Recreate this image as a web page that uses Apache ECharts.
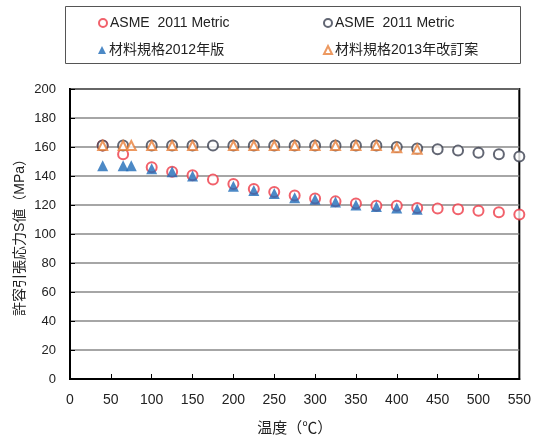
<!DOCTYPE html>
<html>
<head>
<meta charset="utf-8">
<script src="https://cdn.jsdelivr.net/npm/echarts@6/dist/echarts.min.js"></script>
<style>html,body{margin:0;padding:0;background:#fff}#c{width:534px;height:441px}</style>
</head>
<body>
<div id="c"></div>
<script>
// Data
const seriesNames = ['ASME  2011 Metric', 'ASME  2011 Metric ', '材料規格2012年版', '材料規格2013年改訂案'];
const asmeRedX = [40, 65, 100, 125, 150, 175, 200, 225, 250, 275, 300, 325, 350, 375, 400, 425, 450, 475, 500, 525, 550];
const asmeRedY = [161, 155, 146, 143, 140.5, 137.5, 134.5, 131, 129, 126.5, 124.5, 122.5, 121, 119.5, 119.5, 118, 117.5, 117, 116, 115, 113.5];
const asmeBlackX = [40, 65, 100, 125, 150, 175, 200, 225, 250, 275, 300, 325, 350, 375, 400, 425, 450, 475, 500, 525, 550];
const asmeBlackY = [161, 161, 161, 161, 161, 161, 161, 161, 161, 161, 161, 161, 161, 161, 160, 159, 158.5, 157.5, 156, 155, 153.5];
const jis2012X = [40, 65, 75, 100, 125, 150, 200, 225, 250, 275, 300, 325, 350, 375, 400, 425];
const jis2012Y = [147, 147, 147, 145, 143, 140, 133, 130, 128, 125, 124, 122, 120, 119, 118, 117];
const jis2013X = [40, 65, 75, 100, 125, 150, 200, 225, 250, 275, 300, 325, 350, 375, 400, 425];
const jis2013Y = [161, 161, 161, 161, 161, 161, 161, 161, 161, 161, 161, 161, 161, 161, 159.5, 158.5];
const yTicks = {min: 0, max: 200, interval: 20};
const xTicks = {min: 0, max: 550, interval: 50};
const xAxisTitle = '温度（℃）';
const yAxisTitle = '許容引張応力S値（MPa）';

const pair = (xs, ys) => xs.map((x, i) => [x, ys[i]]);
const FONT = '"Liberation Sans", Arial, "Noto Sans CJK JP", sans-serif';
const colors = ['#ee3a46', '#3b4050', '#1f6cb8', '#e8803a'];

const chart = echarts.init(document.getElementById('c'), null, {renderer: 'canvas'});

function legendAt(name, left, top, icon) {
  return {
    data: [{name: name, icon: icon}],
    left: left, top: top,
    itemWidth: 8, itemHeight: 8, itemGap: 0,
    padding: 0,
    selectedMode: false,
    textStyle: {fontFamily: FONT, fontSize: 14, color: '#222', padding: [0, 0, 0, -2]}
  };
}

chart.setOption({
  animation: false,
  backgroundColor: '#fff',
  graphic: [{
    type: 'rect',
    shape: {x: 65.5, y: 6.5, width: 455, height: 57},
    style: {fill: 'none', stroke: '#555', lineWidth: 1}
  }],
  legend: [
    legendAt(seriesNames[0], 98, 16, 'emptyCircle'),
    legendAt(seriesNames[1], 323, 16, 'emptyCircle'),
    legendAt(seriesNames[2], 98, 43, 'triangle'),
    legendAt(seriesNames[3], 323, 43, 'emptyTriangle')
  ],
  grid: {left: 70, right: 13, top: 89, bottom: 59, show: true, borderColor: '#000', borderWidth: 2, backgroundColor: 'transparent'},
  xAxis: {
    type: 'value', min: xTicks.min, max: xTicks.max, interval: xTicks.interval,
    name: xAxisTitle, nameLocation: 'middle', nameGap: 42, nameMoveOverlap: false,
    nameTextStyle: {fontFamily: FONT, fontSize: 15, color: '#222'},
    axisLine: {lineStyle: {color: '#000', width: 2}},
    axisTick: {inside: true, length: 5, lineStyle: {color: '#000', width: 1}},
    axisLabel: {fontFamily: FONT, fontSize: 14, color: '#222', margin: 14},
    splitLine: {show: false}
  },
  yAxis: {
    type: 'value', min: yTicks.min, max: yTicks.max, interval: yTicks.interval,
    name: yAxisTitle, nameLocation: 'middle', nameGap: 43, nameRotate: 90, nameMoveOverlap: false,
    nameTextStyle: {fontFamily: FONT, fontSize: 14, color: '#222'},
    axisLine: {lineStyle: {color: '#000', width: 2}},
    axisTick: {inside: true, length: 5, lineStyle: {color: '#000', width: 1}},
    axisLabel: {fontFamily: FONT, fontSize: 13, color: '#222', margin: 14},
    splitLine: {show: true, lineStyle: {color: '#888', width: 1.5}}
  },
  series: [
    {name: seriesNames[0], type: 'scatter', symbol: 'emptyCircle', symbolSize: 10,
      itemStyle: {color: colors[0], borderColor: colors[0], borderWidth: 1.8},
      data: pair(asmeRedX, asmeRedY), z: 2},
    {name: seriesNames[1], type: 'scatter', symbol: 'emptyCircle', symbolSize: 10,
      itemStyle: {color: colors[1], borderColor: colors[1], borderWidth: 1.8},
      data: pair(asmeBlackX, asmeBlackY), z: 2},
    {name: seriesNames[2], type: 'scatter', symbol: 'triangle', symbolSize: 11,
      itemStyle: {color: colors[2]},
      data: pair(jis2012X, jis2012Y), z: 3},
    {name: seriesNames[3], type: 'scatter', symbol: 'emptyTriangle', symbolSize: 9,
      itemStyle: {color: colors[3], borderColor: colors[3], borderWidth: 1.8},
      data: pair(jis2013X, jis2013Y), z: 3}
  ]
});
</script>
</body>
</html>
